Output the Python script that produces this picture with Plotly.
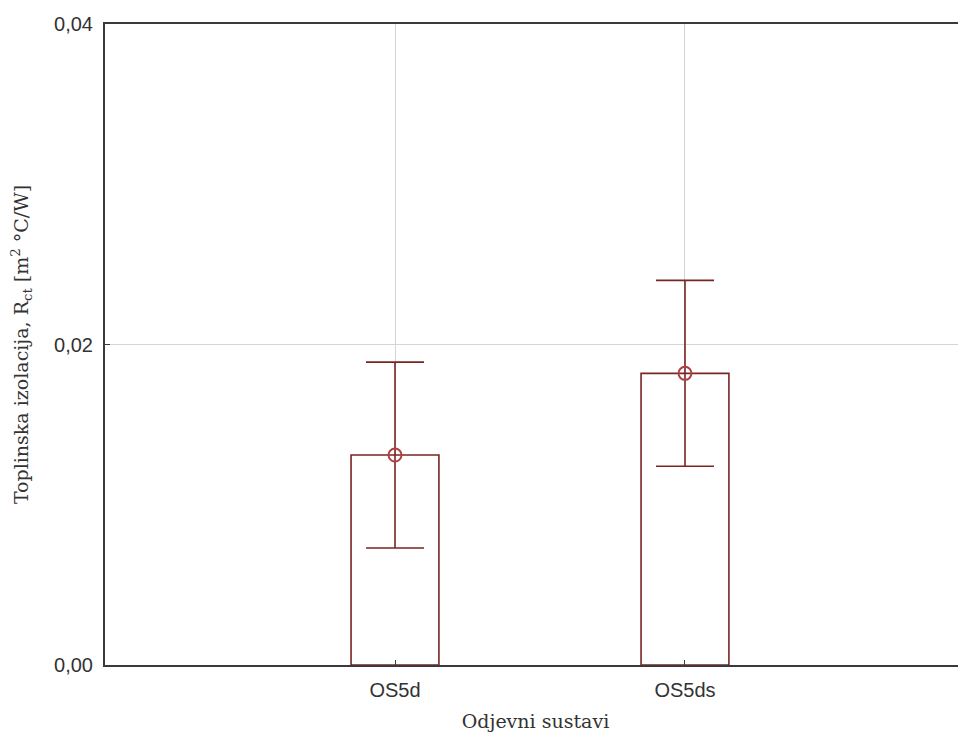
"""Toplinska izolacija R_ct po odjevnim sustavima: srednja vrijednost i interval pogreške."""
import plotly.graph_objects as go

CATEGORIES = ["OS5d", "OS5ds"]
MEANS = [0.0131, 0.0182]
ERR_UP = [0.0058, 0.0058]
ERR_DOWN = [0.0058, 0.0058]
Y_TICKS = [0.00, 0.02, 0.04]

BAR_LINE = "#7a2424"
MARK = "#b04040"
GRID = "#d4d4d4"
AXIS = "#3a3a3a"
SERIF = "DejaVu Serif, Liberation Serif, serif"

fig = go.Figure()
fig.add_trace(go.Bar(x=CATEGORIES, y=MEANS, width=0.303,
                     marker=dict(color="white", line=dict(color=BAR_LINE, width=1.6)),
                     showlegend=False, hoverinfo="skip"))
fig.add_trace(go.Scatter(x=CATEGORIES, y=MEANS, mode="markers",
                         marker=dict(symbol="circle-open", size=13, color=MARK,
                                     line=dict(width=2, color=MARK)),
                         error_y=dict(type="data", symmetric=False, array=ERR_UP,
                                      arrayminus=ERR_DOWN, color=BAR_LINE,
                                      thickness=1.6, width=29),
                         showlegend=False))

# the page body adds 8 px around the figure, so the sizes are trimmed to match
fig.update_layout(
    width=958, height=726,
    margin=dict(l=97, r=0, t=16, b=69),
    plot_bgcolor="white", paper_bgcolor="white",
    separators=",.",
    font=dict(family="Liberation Sans, Arial, sans-serif", size=20, color="#333333"),
)
fig.update_xaxes(
    type="category", range=[-1, 1.969], automargin=False,
    showline=True, mirror=True, linecolor=AXIS, linewidth=2,
    showgrid=True, gridcolor=GRID, gridwidth=1,
    ticks="inside", ticklen=5, tickcolor=AXIS, ticklabelstandoff=6,
    tickfont=dict(size=20, color="#333333"),
    title=dict(text="Odjevni sustavi",
               font=dict(family=SERIF, size=19, color="#333333")),
)
fig.update_yaxes(
    range=[0, 0.04], tickvals=Y_TICKS, tickformat=".2f",
    showline=True, linecolor=AXIS, linewidth=2,
    showgrid=True, gridcolor=GRID, gridwidth=1, zeroline=False,
    ticks="inside", ticklen=5, tickcolor=AXIS, ticklabelstandoff=6,
    tickfont=dict(size=20, color="#333333"),
    title=dict(text="Toplinska izolacija, R<sub>ct</sub> [m<sup>2</sup> °C/W]", standoff=20,
               font=dict(family=SERIF, size=19, color="#333333")),
)

fig.write_html("out.html")
